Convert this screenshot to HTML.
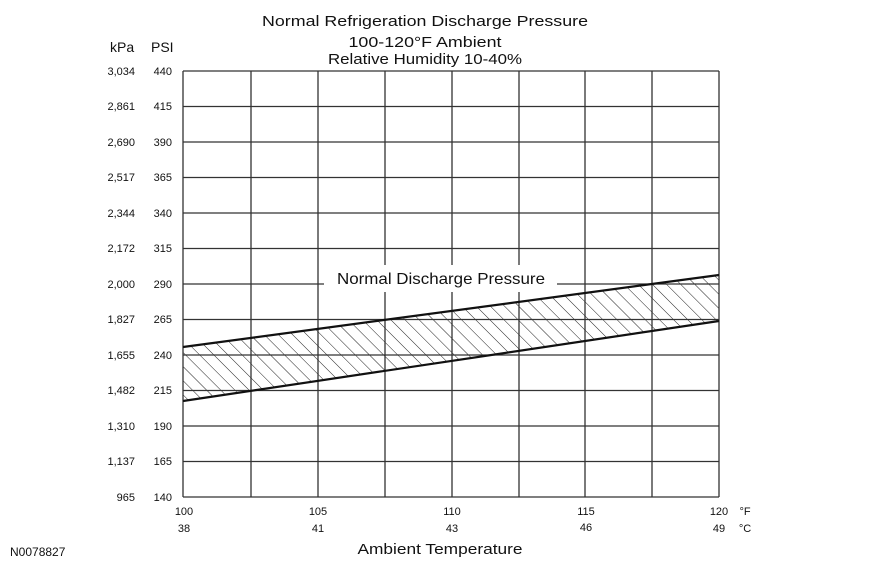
<!DOCTYPE html>
<html><head><style>
body{margin:0;background:#fff;}
svg{display:block;font-family:"Liberation Sans",Arial,sans-serif;}
</style></head><body>
<svg width="870" height="568" viewBox="0 0 870 568">
<defs>
<pattern id="h" patternUnits="userSpaceOnUse" width="10" height="10" patternTransform="rotate(-45)">
<line x1="0" y1="0" x2="0" y2="10" stroke="#222" stroke-width="1"/>
</pattern>
<clipPath id="c"><rect x="183" y="71" width="536" height="426"/></clipPath>
</defs>
<rect width="870" height="568" fill="#fff"/>
<g font-size="15" text-anchor="middle" fill="#111">
<text x="425" y="26" textLength="326" lengthAdjust="spacingAndGlyphs">Normal Refrigeration Discharge Pressure</text>
<text x="425" y="47" textLength="153" lengthAdjust="spacingAndGlyphs">100-120°F Ambient</text>
<text x="425" y="64" textLength="194" lengthAdjust="spacingAndGlyphs">Relative Humidity 10-40%</text>
</g>
<text x="110" y="52" font-size="14" fill="#111">kPa</text>
<text x="151" y="52" font-size="14" fill="#111">PSI</text>
<polygon points="183,347 719,275 719,321 183,401" fill="url(#h)" clip-path="url(#c)"/>
<g stroke="#333" stroke-width="1.3" fill="none">
<line x1="183" y1="71" x2="719" y2="71"/>
<line x1="183" y1="106.5" x2="719" y2="106.5"/>
<line x1="183" y1="142" x2="719" y2="142"/>
<line x1="183" y1="177.5" x2="719" y2="177.5"/>
<line x1="183" y1="213" x2="719" y2="213"/>
<line x1="183" y1="248.5" x2="719" y2="248.5"/>
<line x1="183" y1="284" x2="719" y2="284"/>
<line x1="183" y1="319.5" x2="719" y2="319.5"/>
<line x1="183" y1="355" x2="719" y2="355"/>
<line x1="183" y1="390.5" x2="719" y2="390.5"/>
<line x1="183" y1="426" x2="719" y2="426"/>
<line x1="183" y1="461.5" x2="719" y2="461.5"/>
<line x1="183" y1="497" x2="719" y2="497"/>
<line x1="183" y1="71" x2="183" y2="497"/>
<line x1="251" y1="71" x2="251" y2="497"/>
<line x1="318" y1="71" x2="318" y2="497"/>
<line x1="385" y1="71" x2="385" y2="497"/>
<line x1="452" y1="71" x2="452" y2="497"/>
<line x1="519" y1="71" x2="519" y2="497"/>
<line x1="585" y1="71" x2="585" y2="497"/>
<line x1="652" y1="71" x2="652" y2="497"/>
<line x1="719" y1="71" x2="719" y2="497"/>
</g>
<rect x="324" y="265" width="233" height="27" fill="#fff"/>
<text x="441" y="284" font-size="16" text-anchor="middle" fill="#111" textLength="208" lengthAdjust="spacingAndGlyphs">Normal Discharge Pressure</text>
<g stroke="#111" stroke-width="2.2">
<line x1="183" y1="347" x2="719" y2="275"/>
<line x1="183" y1="401" x2="719" y2="321"/>
</g>
<g font-size="11" fill="#111" text-anchor="end">
<text x="135" y="75">3,034</text><text x="172" y="75">440</text>
<text x="135" y="110">2,861</text><text x="172" y="110">415</text>
<text x="135" y="146">2,690</text><text x="172" y="146">390</text>
<text x="135" y="181">2,517</text><text x="172" y="181">365</text>
<text x="135" y="217">2,344</text><text x="172" y="217">340</text>
<text x="135" y="252">2,172</text><text x="172" y="252">315</text>
<text x="135" y="288">2,000</text><text x="172" y="288">290</text>
<text x="135" y="323">1,827</text><text x="172" y="323">265</text>
<text x="135" y="359">1,655</text><text x="172" y="359">240</text>
<text x="135" y="394">1,482</text><text x="172" y="394">215</text>
<text x="135" y="430">1,310</text><text x="172" y="430">190</text>
<text x="135" y="465">1,137</text><text x="172" y="465">165</text>
<text x="135" y="501">965</text><text x="172" y="501">140</text>
</g>
<g font-size="11" fill="#111" text-anchor="middle">
<text x="184" y="515">100</text><text x="184" y="532">38</text>
<text x="318" y="515">105</text><text x="318" y="532">41</text>
<text x="452" y="515">110</text><text x="452" y="532">43</text>
<text x="586" y="515">115</text><text x="586" y="531">46</text>
<text x="719" y="515">120</text><text x="719" y="532">49</text>
<text x="745" y="515">°F</text><text x="745" y="532">°C</text>
</g>
<text x="440" y="554" font-size="15" text-anchor="middle" fill="#111" textLength="165" lengthAdjust="spacingAndGlyphs">Ambient Temperature</text>
<text x="10" y="556" font-size="12" fill="#111">N0078827</text>
</svg>
</body></html>
